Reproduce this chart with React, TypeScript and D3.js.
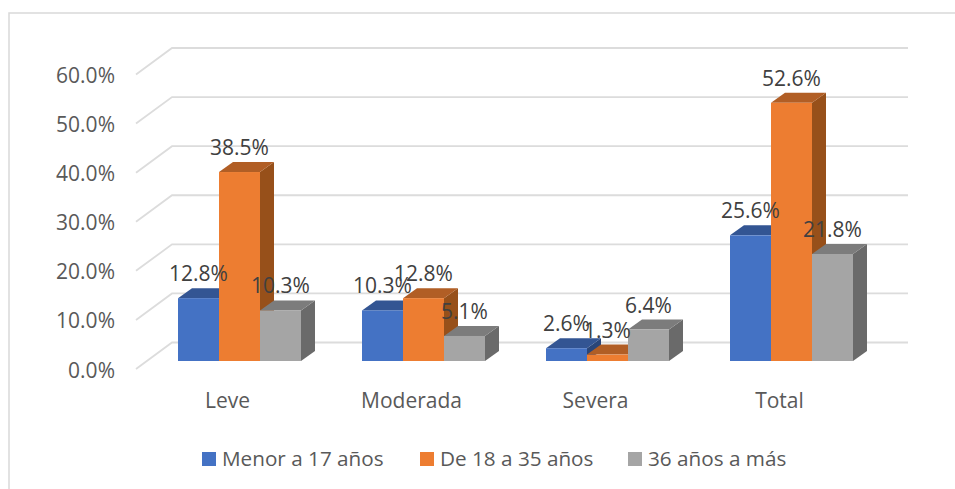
import React from "react";
import * as d3 from "d3";

const categories = ["Leve", "Moderada", "Severa", "Total"];
const seriesNames = ["Menor a 17 años", "De 18 a 35 años", "36 años a más"];
const menor = [12.8, 10.3, 2.6, 25.6];
const medio = [38.5, 12.8, 1.3, 52.6];
const mayor = [10.3, 5.1, 6.4, 21.8];
const ticks = [0, 10, 20, 30, 40, 50, 60];
const seriesValues = [menor, medio, mayor];
const front = ["#4472C4", "#ED7D31", "#A5A5A5"];
const topC = ["#335593", "#B15E25", "#7C7C7C"];
const sideC = ["#2A4679", "#97501A", "#6A6A6A"];
const legendX = [202, 420, 628];

const FONT = "'Open Sans', sans-serif";
const TXT = "#595959";
const LBL = "#404040";
const FS = 21;

const y = d3.scaleLinear().domain([0, 60]).range([361, 66.5]);
const x0 = d3.scaleBand().domain(categories).range([147.5, 883.5]).paddingInner(0).paddingOuter(0);
const barW = 41;
const dx = 14;
const dy = 10;

function poly(points: [number, number][]) {
  return points.map((p) => p.join(",")).join(" ");
}

export default function App() {
  return (
    <svg
      width={955}
      height={489}
      style={{ position: "absolute", left: 0, top: 0, background: "#fff" }}
      fontFamily={FONT}
    >
      <rect x={9} y={13} width={960} height={490} fill="#fff" stroke="#D9D9D9" strokeWidth={1.5} />
      {ticks.map((t) => {
        const yy = y(t);
        return (
          <g key={t}>
            <polyline
              points={poly([[136, yy + 8], [172, yy - 18.5], [908, yy - 18.5]])}
              fill="none"
              stroke="#DCDCDC"
              strokeWidth={1.8}
            />
            <text x={115} y={yy + 16.5} textAnchor="end" fontSize={FS} fill={TXT}>
              {d3.format(".1f")(t)}%
            </text>
          </g>
        );
      })}
      {categories.map((c, i) => {
        const start = (x0(c) as number) + (x0.bandwidth() - 3 * barW) / 2;
        return (
          <g key={c}>
            {seriesValues.map((vals, s) => {
              const bx = start + s * barW;
              const top = y(vals[i]);
              const base = y(0);
              return (
                <g key={s}>
                  <polygon fill={sideC[s]} points={poly([[bx + barW, top], [bx + barW + dx, top - dy], [bx + barW + dx, base - dy], [bx + barW, base]])} />
                  <polygon fill={topC[s]} points={poly([[bx, top], [bx + dx, top - dy], [bx + barW + dx, top - dy], [bx + barW, top]])} />
                  <rect x={bx} y={top} width={barW} height={base - top} fill={front[s]} />
                </g>
              );
            })}
            {seriesValues.map((vals, s) => (
              <text key={s} x={start + s * barW + barW / 2} y={y(vals[i]) - 17} textAnchor="middle" fontSize={FS} fill={LBL}>
                {vals[i].toFixed(1)}%
              </text>
            ))}
            <text x={start + 1.5 * barW - 12} y={408} textAnchor="middle" fontSize={FS} fill={TXT}>
              {c}
            </text>
          </g>
        );
      })}
      {seriesNames.map((n, i) => (
        <g key={n}>
          <rect x={legendX[i]} y={452} width={14} height={14} fill={front[i]} />
          <text x={legendX[i] + 20} y={466} fontSize={20.7} fill={TXT}>
            {n}
          </text>
        </g>
      ))}
    </svg>
  );
}
